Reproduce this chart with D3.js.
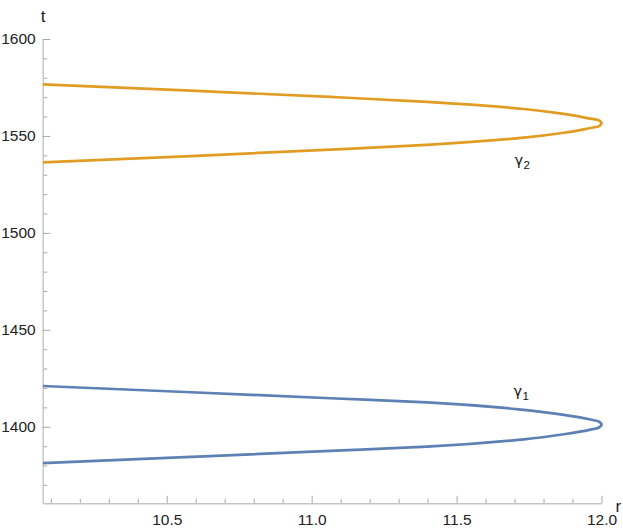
<!DOCTYPE html>
<html>
<head>
<meta charset="utf-8">
<script src="https://cdn.jsdelivr.net/npm/d3@7"></script>
<style>
  body { margin: 0; background: #fff; }
  svg { display: block; font-family: "Liberation Sans", Arial, sans-serif; }
</style>
</head>
<body>
<svg id="chart" width="623" height="531"></svg>
<script>
// ---- data ----
const gamma1R = [10.072, 10.563, 11.064, 11.398, 11.732, 11.870, 11.962, 11.990, 12.000,
                 11.990, 11.962, 11.870, 11.732, 11.398, 11.064, 10.563, 10.072];
const gamma1T = [1421.0, 1417.9, 1414.7, 1412.6, 1408.7, 1406.1, 1403.7, 1402.7, 1401.1,
                 1399.5, 1398.5, 1396.1, 1393.5, 1389.7, 1387.5, 1384.3, 1381.2];
const gamma2R = [10.072, 10.563, 11.064, 11.398, 11.732, 11.870, 11.962, 11.990, 12.000,
                 11.990, 11.962, 11.870, 11.732, 11.398, 11.064, 10.563, 10.072];
const gamma2T = [1576.6, 1573.5, 1570.1, 1567.6, 1563.9, 1561.35, 1558.9, 1558.1, 1556.5,
                 1554.9, 1554.1, 1551.65, 1549.1, 1545.4, 1542.9, 1539.5, 1536.4];
const xMajorTicks = [10.5, 11.0, 11.5, 12.0];
const xTickLabels = ["10.5", "11.0", "11.5", "12.0"];
const yMajorTicks = [1400, 1450, 1500, 1550, 1600];
const yTickLabels = ["1400", "1450", "1500", "1550", "1600"];
const xDomain = [10.072, 12.0];
const yDomain = [1360.5, 1600];

// ---- layout ----
const svg = d3.select("#chart");
const x = d3.scaleLinear().domain(xDomain).range([42.7, 601.5]);
const y = d3.scaleLinear().domain(yDomain).range([503.3, 39]);

const xMinor = d3.range(101, 121).map(v => v / 10).filter(v => !xMajorTicks.includes(v));
const yMinor = d3.range(1370, 1601, 10).filter(v => !yMajorTicks.includes(v));

svg.append("defs").append("clipPath").attr("id", "plotclip")
  .append("rect").attr("x", x.range()[0]).attr("y", y.range()[1] - 2)
  .attr("width", x.range()[1] - x.range()[0] + 4).attr("height", y.range()[0] - y.range()[1] + 2);

// minor ticks
svg.append("g").attr("transform", `translate(0,${y.range()[0]})`)
  .call(d3.axisBottom(x).tickValues(xMinor).tickSize(-4.5).tickSizeOuter(0).tickFormat(""))
  .call(g => g.select(".domain").remove())
  .call(g => g.selectAll("line").attr("stroke", "#a8a8a8"));
svg.append("g").attr("transform", `translate(${x.range()[0]},0)`)
  .call(d3.axisLeft(y).tickValues(yMinor).tickSize(-4.5).tickSizeOuter(0).tickFormat(""))
  .call(g => g.select(".domain").remove())
  .call(g => g.selectAll("line").attr("stroke", "#a8a8a8"));

// major axes
const xAxis = svg.append("g").attr("transform", `translate(0,${y.range()[0]})`)
  .call(d3.axisBottom(x).tickValues(xMajorTicks).tickSize(-7.5).tickSizeOuter(0)
    .tickPadding(10.5).tickFormat((d, i) => xTickLabels[i]));
const yAxis = svg.append("g").attr("transform", `translate(${x.range()[0]},0)`)
  .call(d3.axisLeft(y).tickValues(yMajorTicks).tickSize(-7.5).tickSizeOuter(0)
    .tickPadding(7).tickFormat((d, i) => yTickLabels[i]));
[xAxis, yAxis].forEach(g => {
  g.select(".domain").attr("stroke", "#c4c4c4").attr("stroke-width", 1.4);
  g.selectAll(".tick line").attr("stroke", "#a8a8a8");
  g.selectAll(".tick text").attr("font-size", 15.5).attr("fill", "#222")
    .attr("font-family", "Liberation Sans, Arial, sans-serif");
});

// axis labels
svg.append("text").attr("x", 43).attr("y", 22).attr("text-anchor", "middle")
  .attr("font-size", 17).attr("fill", "#222").text("t");
svg.append("text").attr("x", 615.5).attr("y", 511.5)
  .attr("font-size", 17).attr("fill", "#222").text("r");

// curves (t is monotonic along each path, r is a smooth function of t)
const line = d3.line().x(d => x(d[0])).y(d => y(d[1])).curve(d3.curveMonotoneY);
const plot = svg.append("g").attr("clip-path", "url(#plotclip)");
plot.append("path").datum(d3.zip(gamma1R, gamma1T))
  .attr("d", line).attr("fill", "none").attr("stroke", "#5E81B5").attr("stroke-width", 2.7);
plot.append("path").datum(d3.zip(gamma2R, gamma2T))
  .attr("d", line).attr("fill", "none").attr("stroke", "#E19C24").attr("stroke-width", 2.7);

// curve labels
function gammaLabel(px, py, sub) {
  const t = svg.append("text").attr("x", px).attr("y", py).attr("fill", "#111");
  t.append("tspan").attr("font-family", "DejaVu Sans, sans-serif").attr("font-size", 14.5).text("γ");
  t.append("tspan").attr("font-size", 11.5).attr("dy", 4).attr("dx", 0.5).text(sub);
}
gammaLabel(513.5, 396, "1");
gammaLabel(514.5, 165, "2");
</script>
</body>
</html>
